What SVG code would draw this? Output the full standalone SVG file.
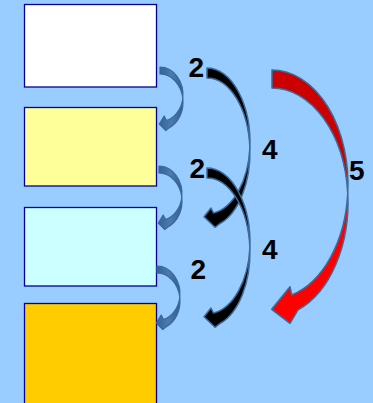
<svg xmlns="http://www.w3.org/2000/svg" width="373" height="403" viewBox="0 0 373 403">
<style>
.box{stroke:#000099;stroke-width:1.3}
.lbl{font-family:"Liberation Sans",Arial,sans-serif;font-weight:bold;font-size:28px;fill:#000}
.blk{fill:#000;stroke:#3d6a99;stroke-width:1.5;stroke-linejoin:round}
.blu{fill:url(#bg);stroke:#3a6898;stroke-width:1.2;stroke-linejoin:round}
.rdk{fill:#cc0000;stroke:#3d6a99;stroke-width:1.5;stroke-linejoin:round}
.rlt{fill:#ff0000;stroke:#3d6a99;stroke-width:1.5;stroke-linejoin:round}
</style>
<defs>
<linearGradient id="bg" x1="0" y1="0" x2="1" y2="0">
<stop offset="0" stop-color="#34639a"/>
<stop offset="0.5" stop-color="#4a7ab0"/>
<stop offset="1" stop-color="#305f95"/>
</linearGradient>
<g id="smallArrow">
<path class="blu" d="M160,67 A23,28 0 0 1 182.8,98.5 A23,28 0 0 0 160,74 Z"/>
<path class="blu" d="M182.8,98.5 A23,28 0 0 1 169.5,127.6 L165.8,130.5 L159.3,124 L164.2,116 L166.5,120.5 A23,27 0 0 0 182.8,98.5 Z"/>
</g>
<g id="blackArrow">
<path class="blk" d="M207,68 A43,75 0 0 1 249.9,148 A43,75 0 0 0 207,78 Z"/>
<path class="blk" d="M249.9,148 A43,75 0 0 1 220,223.5 L215,227.3 L204,216.7 L211,208 L213.5,213 A43,72 0 0 0 249.9,148 Z"/>
</g>
</defs>
<rect width="373" height="403" fill="#99ccff"/>
<g id="node-white"><rect class="box" x="24.5" y="4.5" width="132" height="82.5" fill="#ffffff"/></g>
<g id="node-yellow"><rect class="box" x="24.5" y="107.5" width="132" height="78.5" fill="#ffff99"/></g>
<g id="node-cyan"><rect class="box" x="24.5" y="207.5" width="132" height="78.5" fill="#ccffff"/></g>
<g id="node-orange"><rect class="box" x="24.5" y="303.5" width="132" height="110" fill="#ffcc00"/></g>
<g id="connectors">
<use href="#smallArrow"/>
<use href="#smallArrow" transform="translate(-1,99)"/>
<use href="#smallArrow" transform="translate(-3,199)"/>
<use href="#blackArrow"/>
<use href="#blackArrow" transform="translate(0,100)"/>
<path class="rdk" d="M272,70 A76,114.4 0 0 1 347.76,193.4 A76,114.4 0 0 0 272,88 Z"/>
<path class="rlt" d="M347.76,193.4 A76,114.4 0 0 1 298,309.9 L290,323.3 L271.7,309.3 L290,286.7 L291.7,294.9 A76,114.4 0 0 0 347.76,193.4 Z"/>
<text class="lbl" x="188.5" y="77">2</text>
<text class="lbl" x="189.5" y="178">2</text>
<text class="lbl" x="190.5" y="279">2</text>
<text class="lbl" x="262" y="159">4</text>
<text class="lbl" x="262" y="259">4</text>
<text class="lbl" x="349" y="180">5</text>
</g>
</svg>
